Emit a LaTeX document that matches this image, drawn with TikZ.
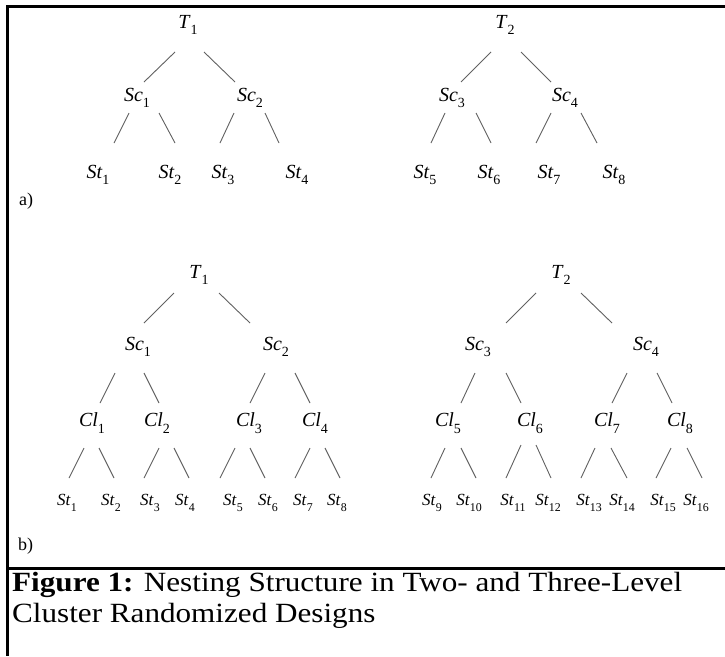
\documentclass[tikz,border=0pt]{standalone}
\usepackage{fontspec}
\usepackage{graphicx}
\setmainfont{Liberation Serif}
\newfontfamily\capfont[FakeStretch=1.12]{Liberation Serif}
\usetikzlibrary{calc}
\newcommand\lb[2]{\textit{#1}\raisebox{-0.32em}{\scalebox{0.7}{#2}}}
\newcommand\conn[4]{\draw[edge] ($(#1)+(#2)$) -- ($(#3)+(#4)$);}
\tikzset{
  lab/.style={font=\fontsize{20}{22}\selectfont, inner sep=0pt},
  slab/.style={font=\fontsize{17}{19}\selectfont, inner sep=0pt},
  edge/.style={draw=black!62, line width=0.9pt},
  frameline/.style={line width=3pt, black},
  captxt/.style={font=\capfont\fontsize{27.8}{30}\selectfont, inner sep=0pt, anchor=base west}
}
\begin{document}
\begin{tikzpicture}[x={(1pt,0)}, y={(0,-1pt)}]
\useasboundingbox (0,0) rectangle (725,656);
\fill[white] (0,0) rectangle (725,656);
% frame
\coordinate (tl) at (7.5,5);
\coordinate (tr) at (725,6.5);
\coordinate (bl) at (7.5,656);
\coordinate (dl) at (6,568.5);
\coordinate (dr) at (725,568.5);
\draw[frameline] (tl |- tr) ++(-1.5,0) -- (tr);
\draw[frameline] (tl) -- (bl);
\draw[frameline] (dl) -- (dr);

% ---------- part a ----------
\node[lab] (aT1) at (188,25) {\lb{T}{1}};
\node[lab] (aT2) at (505,25) {\lb{T}{2}};
\node[lab] (aSc1) at (137,98) {\lb{Sc}{1}};
\node[lab] (aSc2) at (250,98) {\lb{Sc}{2}};
\node[lab] (aSc3) at (452,98) {\lb{Sc}{3}};
\node[lab] (aSc4) at (565,98) {\lb{Sc}{4}};
\node[lab] (aSt1) at (98,175) {\lb{St}{1}};
\node[lab] (aSt2) at (170,175) {\lb{St}{2}};
\node[lab] (aSt3) at (223,175) {\lb{St}{3}};
\node[lab] (aSt4) at (297,175) {\lb{St}{4}};
\node[lab] (aSt5) at (425,175) {\lb{St}{5}};
\node[lab] (aSt6) at (489,175) {\lb{St}{6}};
\node[lab] (aSt7) at (549,175) {\lb{St}{7}};
\node[lab] (aSt8) at (614,175) {\lb{St}{8}};
\node[lab, anchor=west, font=\fontsize{18}{20}\selectfont] (alab) at (19,201) {a)};

\conn{aT1}{-13,27}{aSc1}{7,-16}
\conn{aT1}{16,27}{aSc2}{-15,-16}
\conn{aSc1}{-8,15}{aSt1}{16,-32}
\conn{aSc1}{22,15}{aSt2}{5,-32}
\conn{aSc2}{-16,15}{aSt3}{-3,-32}
\conn{aSc2}{15,15}{aSt4}{-18,-32}
\conn{aT2}{-14,27}{aSc3}{9,-16}
\conn{aT2}{16,27}{aSc4}{-14,-16}
\conn{aSc3}{-7,15}{aSt5}{6,-32}
\conn{aSc3}{24,15}{aSt6}{2,-32}
\conn{aSc4}{-14,15}{aSt7}{-13,-32}
\conn{aSc4}{16,15}{aSt8}{-17,-32}

% ---------- part b ----------
\node[lab] (bT1) at (199,275) {\lb{T}{1}};
\node[lab] (bT2) at (561,275) {\lb{T}{2}};
\node[lab] (bSc1) at (138,347) {\lb{Sc}{1}};
\node[lab] (bSc2) at (276,347) {\lb{Sc}{2}};
\node[lab] (bSc3) at (478,347) {\lb{Sc}{3}};
\node[lab] (bSc4) at (646,347) {\lb{Sc}{4}};
\node[lab] (bCl1) at (92,423) {\lb{Cl}{1}};
\node[lab] (bCl2) at (157,423) {\lb{Cl}{2}};
\node[lab] (bCl3) at (249,423) {\lb{Cl}{3}};
\node[lab] (bCl4) at (315,423) {\lb{Cl}{4}};
\node[lab] (bCl5) at (448,423) {\lb{Cl}{5}};
\node[lab] (bCl6) at (530,423) {\lb{Cl}{6}};
\node[lab] (bCl7) at (607,423) {\lb{Cl}{7}};
\node[lab] (bCl8) at (680,423) {\lb{Cl}{8}};
\node[slab] (bSt1) at (67,503) {\lb{St}{1}};
\node[slab] (bSt2) at (111,503) {\lb{St}{2}};
\node[slab] (bSt3) at (150,503) {\lb{St}{3}};
\node[slab] (bSt4) at (185,503) {\lb{St}{4}};
\node[slab] (bSt5) at (233,503) {\lb{St}{5}};
\node[slab] (bSt6) at (268,503) {\lb{St}{6}};
\node[slab] (bSt7) at (303,503) {\lb{St}{7}};
\node[slab] (bSt8) at (337,503) {\lb{St}{8}};
\node[slab] (bSt9) at (432,503) {\lb{St}{9}};
\node[slab] (bSt10) at (469,503) {\lb{St}{10}};
\node[slab] (bSt11) at (513,503) {\lb{St}{11}};
\node[slab] (bSt12) at (548,503) {\lb{St}{12}};
\node[slab] (bSt13) at (589,503) {\lb{St}{13}};
\node[slab] (bSt14) at (622,503) {\lb{St}{14}};
\node[slab] (bSt15) at (663,503) {\lb{St}{15}};
\node[slab] (bSt16) at (696,503) {\lb{St}{16}};
\node[lab, anchor=west, font=\fontsize{18}{20}\selectfont] (blab) at (18,546) {b)};

\conn{bT1}{-25,18}{bSc1}{6,-24}
\conn{bT1}{20,18}{bSc2}{-26,-24}
\conn{bT2}{-25,18}{bSc3}{28,-24}
\conn{bT2}{20,18}{bSc4}{-34,-24}
\conn{bSc1}{-23,26}{bCl1}{8,-20}
\conn{bSc1}{6,26}{bCl2}{2,-20}
\conn{bSc2}{-11,26}{bCl3}{1,-20}
\conn{bSc2}{19,26}{bCl4}{-5,-20}
\conn{bSc3}{-3,26}{bCl5}{13,-20}
\conn{bSc3}{28,26}{bCl6}{-9,-20}
\conn{bSc4}{-19,26}{bCl7}{5,-20}
\conn{bSc4}{11,26}{bCl8}{-8,-20}
\conn{bCl1}{-8,25}{bSt1}{2,-25}
\conn{bCl1}{7,25}{bSt2}{3,-25}
\conn{bCl2}{2,25}{bSt3}{-6,-25}
\conn{bCl2}{17,25}{bSt4}{4,-25}
\conn{bCl3}{-14,25}{bSt5}{-13,-25}
\conn{bCl3}{1,25}{bSt6}{-3,-25}
\conn{bCl4}{-5,25}{bSt7}{-8,-25}
\conn{bCl4}{10,25}{bSt8}{3,-25}
\conn{bCl5}{-3,25}{bSt9}{-1,-25}
\conn{bCl5}{13,25}{bSt10}{7,-25}
\conn{bCl6}{-9,22}{bSt11}{-7,-25}
\conn{bCl6}{6,22}{bSt12}{3,-25}
\conn{bCl7}{-12,25}{bSt13}{-8,-25}
\conn{bCl7}{4,25}{bSt14}{5,-25}
\conn{bCl8}{-9,25}{bSt15}{-7,-25}
\conn{bCl8}{7,25}{bSt16}{6,-25}

% ---------- caption ----------
\node[captxt] (cap1) at (12,591) {\textbf{Figure 1:} Nesting Structure in Two- and Three-Level};
\node[captxt] (cap2) at (12,622) {Cluster Randomized Designs};
\end{tikzpicture}
\end{document}
